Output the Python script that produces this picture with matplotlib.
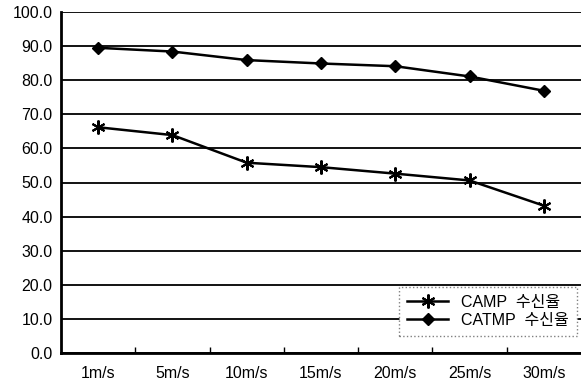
import matplotlib.pyplot as plt
import numpy as np

# data
speeds = ['1m/s', '5m/s', '10m/s', '15m/s', '20m/s', '25m/s', '30m/s']
camp = [66.2, 63.9, 55.8, 54.5, 52.6, 50.6, 43.2]
catmp = [89.5, 88.4, 85.9, 84.9, 84.1, 81.1, 76.9]
labels = ['CAMP  수신율', 'CATMP  수신율']

plt.rcParams['font.family'] = ['Liberation Sans', 'Noto Sans CJK KR', 'DejaVu Sans']

fig = plt.figure(figsize=(5.81, 3.84), dpi=100)
ax = fig.add_axes([61 / 581, 1 - 353 / 384, 520 / 581, 341 / 384])

x = np.arange(len(speeds))
ax.plot(x, camp, color='black', lw=1.8, marker=(6, 2, 0), ms=10, mew=1.5, label=labels[0])
ax.plot(x, catmp, color='black', lw=1.8, marker='D', ms=6.5, label=labels[1])

ax.set_xlim(-0.5, len(speeds) - 0.5)
ax.set_ylim(0, 100)
ax.set_yticks(np.arange(0, 101, 10))
ax.set_yticklabels(['%.1f' % v for v in np.arange(0, 101, 10)], fontsize=11.5)
ax.set_xticks(x)
ax.set_xticklabels(speeds, fontsize=11.5)
ax.tick_params(axis='x', length=0, pad=9)
ax.tick_params(axis='y', length=0, pad=6)
ax.set_xticks(np.arange(0.5, len(speeds) - 1, 1), minor=True)
ax.tick_params(axis='x', which='minor', length=4, direction='in', width=1)

ax.yaxis.grid(True, color='black', lw=1.3)
ax.set_axisbelow(True)
for s in ['top', 'right']:
    ax.spines[s].set_visible(False)
ax.spines['left'].set_linewidth(2)
ax.spines['bottom'].set_linewidth(2)

leg = ax.legend(loc='lower right', bbox_to_anchor=(516 / 520, (353 - 336) / 341),
                fontsize=11.5, handlelength=2.6, fancybox=False, framealpha=1,
                borderpad=0.5, labelspacing=0.2, borderaxespad=0)
leg.get_frame().set_edgecolor('gray')
leg.get_frame().set_linestyle(':')
leg.get_frame().set_linewidth(1)

fig.savefig('out.png', dpi=100)
